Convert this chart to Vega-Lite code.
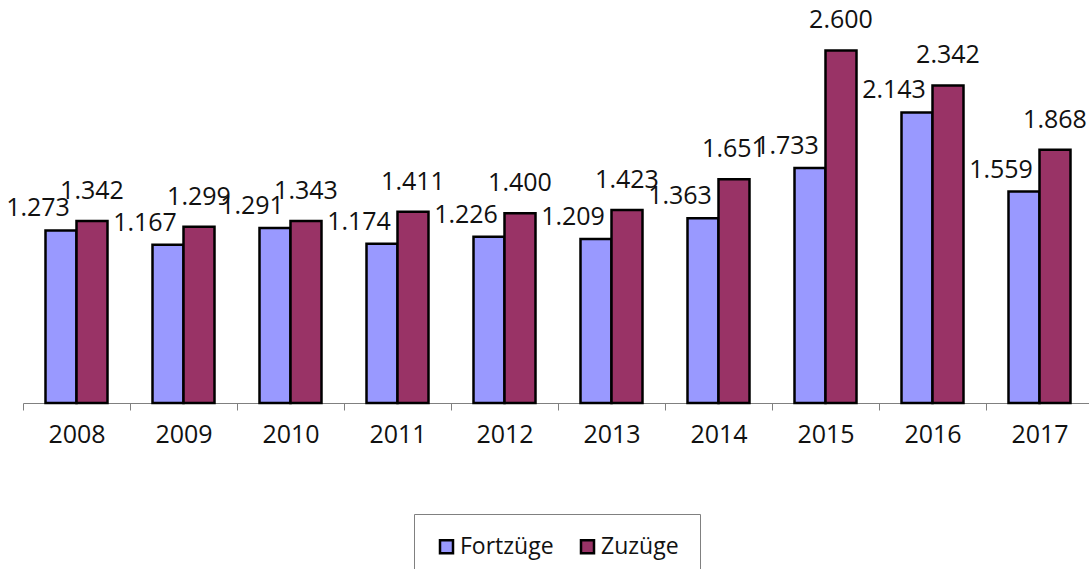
{
  "$schema": "https://vega.github.io/schema/vega-lite/v6.json",
  "width": 1070,
  "height": 403,
  "autosize": {"type": "none"},
  "padding": {"left": 23, "top": 0, "right": 0, "bottom": 166},
  "background": "white",
  "data": {
    "values": [
      {"Jahr": "2008", "Serie": "Fortzüge", "Wert": 1273},
      {"Jahr": "2008", "Serie": "Zuzüge", "Wert": 1342},
      {"Jahr": "2009", "Serie": "Fortzüge", "Wert": 1167},
      {"Jahr": "2009", "Serie": "Zuzüge", "Wert": 1299},
      {"Jahr": "2010", "Serie": "Fortzüge", "Wert": 1291},
      {"Jahr": "2010", "Serie": "Zuzüge", "Wert": 1343},
      {"Jahr": "2011", "Serie": "Fortzüge", "Wert": 1174},
      {"Jahr": "2011", "Serie": "Zuzüge", "Wert": 1411},
      {"Jahr": "2012", "Serie": "Fortzüge", "Wert": 1226},
      {"Jahr": "2012", "Serie": "Zuzüge", "Wert": 1400},
      {"Jahr": "2013", "Serie": "Fortzüge", "Wert": 1209},
      {"Jahr": "2013", "Serie": "Zuzüge", "Wert": 1423},
      {"Jahr": "2014", "Serie": "Fortzüge", "Wert": 1363},
      {"Jahr": "2014", "Serie": "Zuzüge", "Wert": 1651},
      {"Jahr": "2015", "Serie": "Fortzüge", "Wert": 1733},
      {"Jahr": "2015", "Serie": "Zuzüge", "Wert": 2600},
      {"Jahr": "2016", "Serie": "Fortzüge", "Wert": 2143},
      {"Jahr": "2016", "Serie": "Zuzüge", "Wert": 2342},
      {"Jahr": "2017", "Serie": "Fortzüge", "Wert": 1559},
      {"Jahr": "2017", "Serie": "Zuzüge", "Wert": 1868}
    ]
  },
  "encoding": {
    "x": {
      "field": "Jahr",
      "type": "nominal",
      "scale": {"paddingInner": 0, "paddingOuter": 0},
      "axis": {
        "title": null,
        "labelAngle": 0,
        "tickBand": "extent",
        "tickSize": 7,
        "tickColor": "#808080",
        "domainColor": "#808080",
        "domainWidth": 1,
        "labelFont": "Open Sans",
        "labelFontSize": 25,
        "labelColor": "#111111",
        "labelPadding": 12
      }
    },
    "xOffset": {
      "field": "Serie",
      "type": "nominal",
      "scale": {"domain": ["Fortzüge", "Zuzüge"], "paddingInner": 0, "paddingOuter": 0.726}
    },
    "y": {
      "field": "Wert",
      "type": "quantitative",
      "scale": {"domain": [0, 2972]},
      "axis": null
    }
  },
  "layer": [
    {
      "mark": {"type": "bar", "stroke": "#000000", "strokeWidth": 2.5},
      "encoding": {
        "color": {
          "field": "Serie",
          "type": "nominal",
          "scale": {"domain": ["Fortzüge", "Zuzüge"], "range": ["#9999FF", "#993366"]},
          "legend": {
            "title": null,
            "orient": "none",
            "legendX": 391,
            "legendY": 514,
            "direction": "horizontal",
            "strokeColor": "#808080",
            "padding": 21,
            "symbolType": "square",
            "symbolSize": 169,
            "symbolStrokeColor": "#000000",
            "symbolStrokeWidth": 2.5,
            "symbolOpacity": 1,
            "labelFont": "Open Sans",
            "labelFontSize": 23,
            "labelColor": "#111111",
            "labelOffset": 2,
            "columnPadding": 22
          }
        }
      }
    },
    {
      "transform": [{"filter": "datum.Serie === 'Fortzüge'"}],
      "mark": {"type": "text", "font": "Open Sans", "fontSize": 25, "color": "#111111", "baseline": "middle", "dx": -23, "dy": -22},
      "encoding": {"text": {"field": "Wert", "type": "quantitative", "format": ",d"}}
    },
    {
      "transform": [{"filter": "datum.Serie === 'Zuzüge'"}],
      "mark": {"type": "text", "font": "Open Sans", "fontSize": 25, "color": "#111111", "baseline": "middle", "dx": 0, "dy": -30},
      "encoding": {"text": {"field": "Wert", "type": "quantitative", "format": ",d"}}
    }
  ],
  "config": {
    "view": {"stroke": null},
    "locale": {"number": {"decimal": ",", "thousands": ".", "grouping": [3], "currency": ["", " €"]}}
  }
}
